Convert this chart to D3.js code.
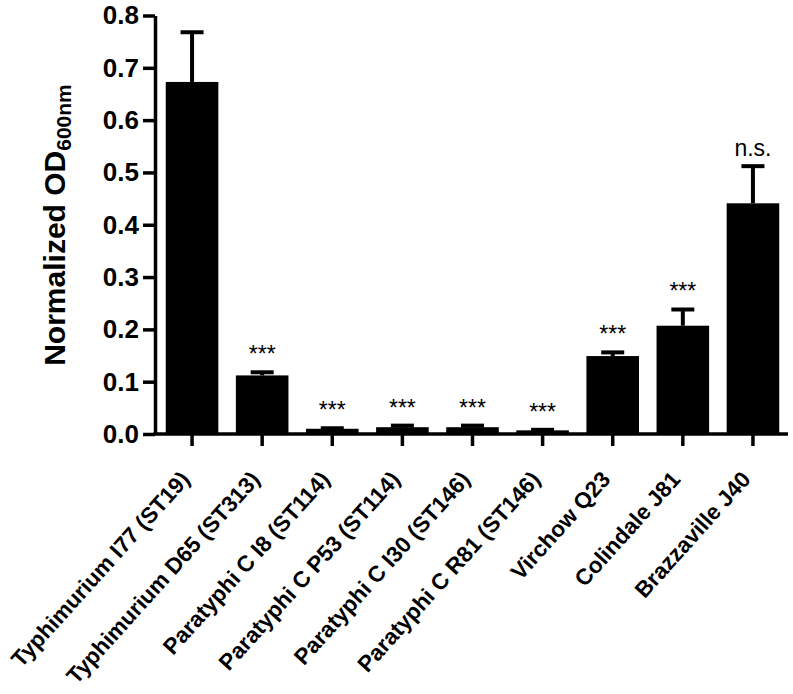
<!DOCTYPE html>
<html>
<head>
<meta charset="utf-8">
<script src="https://cdn.jsdelivr.net/npm/d3@7"></script>
<style>
  body { margin: 0; background: #fff; }
  text { font-family: Arial, "Liberation Sans", sans-serif; }
</style>
</head>
<body>
<svg id="chart"></svg>
<script>
// strains on the x axis
var strains = [
    "Typhimurium I77 (ST19)",
    "Typhimurium D65 (ST313)",
    "Paratyphi C I8 (ST114)",
    "Paratyphi C P53 (ST114)",
    "Paratyphi C I30 (ST146)",
    "Paratyphi C R81 (ST146)",
    "Virchow Q23",
    "Colindale J81",
    "Brazzaville J40"
];
// mean normalized OD600 and error (upper half only)
var means = [0.673, 0.112, 0.010, 0.013, 0.013, 0.007, 0.149, 0.207, 0.441];
var errors = [0.095, 0.006, 0.001, 0.003, 0.003, 0.001, 0.007, 0.031, 0.071];
// significance marks
var marks = ["", "***", "***", "***", "***", "***", "***", "***", "n.s."];
var yTicks = [0, 0.1, 0.2, 0.3, 0.4, 0.5, 0.6, 0.7, 0.8];

var width = 793;
var height = 694;

var data = strains.map(function(s, i) {
    return { strain: s, mean: means[i], err: errors[i], mark: marks[i] };
});

var svg = d3.select("#chart")
    .attr("width", width)
    .attr("height", height);

var x = d3.scaleBand()
    .domain(strains)
    .range([157, 788])
    .paddingInner(0.25)
    .paddingOuter(0.125);

var y = d3.scaleLinear()
    .domain([0, 0.8])
    .range([434, 15.5]);

// bars
svg.selectAll("rect.bar")
    .data(data)
    .enter()
    .append("rect")
    .attr("class", "bar")
    .attr("x", function(d) { return x(d.strain); })
    .attr("width", x.bandwidth())
    .attr("y", function(d) { return y(d.mean); })
    .attr("height", function(d) { return y(0) - y(d.mean); })
    .attr("fill", "#000");

// error bars (upper only)
var eb = svg.selectAll("g.err")
    .data(data)
    .enter()
    .append("g")
    .attr("class", "err");

eb.append("line")
    .attr("x1", function(d) { return x(d.strain) + x.bandwidth() / 2; })
    .attr("x2", function(d) { return x(d.strain) + x.bandwidth() / 2; })
    .attr("y1", function(d) { return y(d.mean); })
    .attr("y2", function(d) { return y(d.mean + d.err); })
    .attr("stroke", "#000")
    .attr("stroke-width", 4);

eb.append("line")
    .attr("x1", function(d) { return x(d.strain) + x.bandwidth() / 2 - 11.5; })
    .attr("x2", function(d) { return x(d.strain) + x.bandwidth() / 2 + 11.5; })
    .attr("y1", function(d) { return y(d.mean + d.err); })
    .attr("y2", function(d) { return y(d.mean + d.err); })
    .attr("stroke", "#000")
    .attr("stroke-width", 4);

// significance labels
svg.selectAll("text.mark")
    .data(data)
    .enter()
    .append("text")
    .attr("class", "mark")
    .attr("x", function(d) { return x(d.strain) + x.bandwidth() / 2; })
    .attr("y", function(d) { return y(d.mean + d.err) - 10; })
    .attr("text-anchor", "middle")
    .attr("font-size", 23)
    .text(function(d) { return d.mark; });

// y axis
var yAxis = svg.append("g")
    .attr("transform", "translate(155,0)")
    .call(d3.axisLeft(y).tickValues(yTicks).tickFormat(d3.format(".1f")).tickSize(12).tickSizeOuter(0).tickPadding(4));
yAxis.select(".domain").attr("stroke", "#000").attr("stroke-width", 3.5);
yAxis.selectAll(".tick line").attr("stroke", "#000").attr("stroke-width", 3.5);
yAxis.selectAll(".tick text")
    .attr("font-size", 26)
    .attr("font-weight", "bold")
    .attr("fill", "#000")
    .attr("font-family", "Arial, 'Liberation Sans', sans-serif");

// x axis
var xAxis = svg.append("g")
    .attr("transform", "translate(0," + y(0) + ")")
    .call(d3.axisBottom(x).tickSize(12).tickSizeOuter(0));
xAxis.select(".domain").remove();
xAxis.selectAll(".tick line").attr("stroke", "#000").attr("stroke-width", 3.5);
xAxis.selectAll(".tick text").remove();

svg.append("line")
    .attr("x1", 153.25)
    .attr("x2", 788)
    .attr("y1", y(0))
    .attr("y2", y(0))
    .attr("stroke", "#000")
    .attr("stroke-width", 3.5);

// rotated strain labels
svg.selectAll("text.xlab")
    .data(strains)
    .enter()
    .append("text")
    .attr("class", "xlab")
    .attr("transform", function(d) {
        return "translate(" + (x(d) + x.bandwidth() / 2 - 7) + ",475) rotate(-48)";
    })
    .attr("text-anchor", "end")
    .attr("dy", "0.35em")
    .attr("font-size", 22.5)
    .attr("font-weight", "bold")
    .text(function(d) { return d; });

// y axis title
var title = svg.append("text")
    .attr("transform", "translate(65,225) rotate(-90)")
    .attr("text-anchor", "middle")
    .attr("font-size", 30)
    .attr("font-weight", "bold");
title.append("tspan").text("Normalized OD");
title.append("tspan")
    .attr("font-size", 21)
    .attr("dy", 6)
    .text("600nm");
</script>
</body>
</html>
